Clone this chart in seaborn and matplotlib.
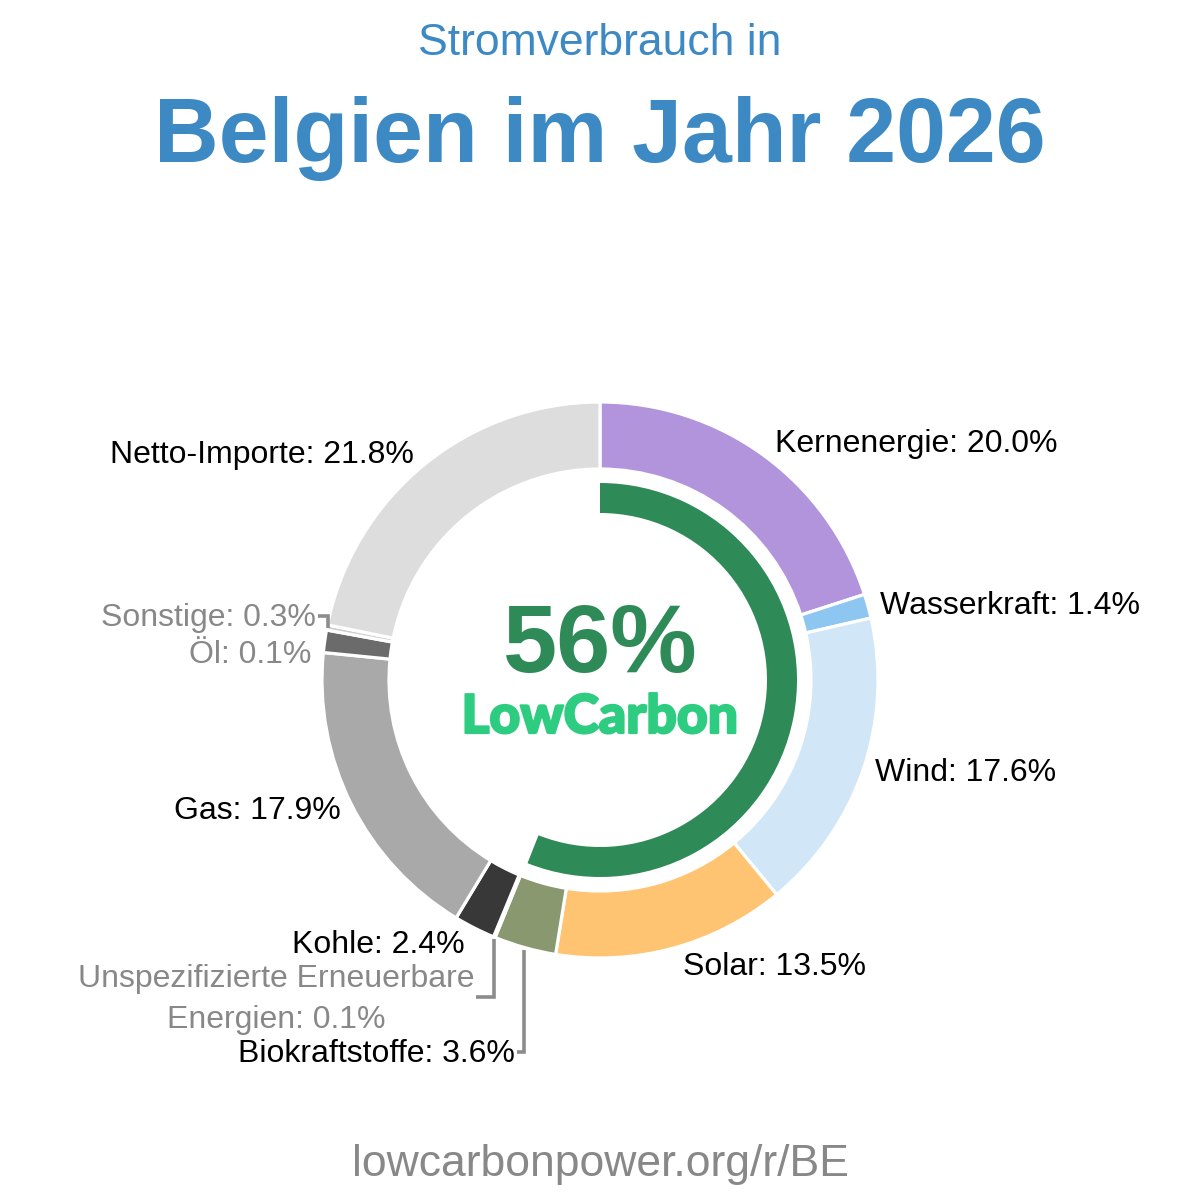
import matplotlib
matplotlib.use("Agg")
import matplotlib.pyplot as plt
import matplotlib.patches as mpatches
import matplotlib.patheffects as pe
import numpy as np
import seaborn as sns

# slices clockwise from 12 o'clock
sources = ['Kernenergie', 'Wasserkraft', 'Wind', 'Solar', 'Biokraftstoffe',
           'Unspezifizierte Erneuerbare Energien', 'Kohle', 'Gas', 'Öl',
           'Sonstige', 'Netto-Importe']
label_pct = [20.0, 1.4, 17.6, 13.5, 3.6, 0.1, 2.4, 17.9, 0.1, 0.3, 21.8]
# wedge sizes as drawn in the picture (Öl slice is drawn wider than its label)
drawn_pct = [20.0, 1.4, 17.6, 13.5, 3.6, 0.1, 2.4, 17.9, 1.3, 0.3, 21.8]
colors = ['#b294dc', '#8ec6f2', '#d1e6f6', '#ffc472', '#8a9870',
          '#6fa86a', '#383838', '#a9a9a9', '#6b6b6b', '#cfcfcf', '#dddddd']
low_carbon = 56

sns.set_theme(style="white")
plt.rcParams['font.family'] = ['Liberation Sans', 'DejaVu Sans']

fig = plt.figure(figsize=(12, 12), dpi=100)
ax = fig.add_axes([0, 0, 1, 1])

H = 1200
cx, cy = 600, H - 680
R = 278

wedges, _ = ax.pie(drawn_pct, colors=colors, startangle=90, counterclock=False,
                   radius=R, center=(cx, cy),
                   wedgeprops=dict(width=67, edgecolor='white', linewidth=2.3))

# low carbon share arc
green = mpatches.Wedge((cx, cy), 197, 90 - 360 * low_carbon / 100, 90,
                       width=30, facecolor='#2e8b57', edgecolor='none')
ax.add_patch(green)

ax.set_xlim(0, 1200)
ax.set_ylim(0, 1200)
ax.set_aspect('equal')
ax.axis('off')

def Y(y):
    return H - y

def fmt(name, p):
    return f"{name}: {p:.1f}%"

black = '#000000'
gray = '#888888'
lab_fs = 23

# (index, x, baseline y in image px, ha, color)
placements = [
    (0, 775, 452, 'left', black),
    (1, 880, 614, 'left', black),
    (2, 875, 781, 'left', black),
    (3, 683, 975, 'left', black),
    (7, 341, 819, 'right', black),
    (6, 465, 953, 'right', black),
    (10, 414, 463, 'right', black),
    (9, 316, 626, 'right', gray),
    (8, 311, 663, 'right', gray),
    (4, 515, 1062, 'right', black),
]
for i, x, y, ha, c in placements:
    ax.text(x, Y(y), fmt(sources[i], label_pct[i]), ha=ha, va='baseline',
            fontsize=lab_fs, color=c)

# two-line label for the unspecified renewables
ax.text(276, Y(987), 'Unspezifizierte Erneuerbare', ha='center', va='baseline',
        fontsize=lab_fs, color=gray)
ax.text(276, Y(1028), fmt('Energien', label_pct[5]), ha='center', va='baseline',
        fontsize=lab_fs, color=gray)

def edge_point(i, r=R + 2):
    w = wedges[i]
    a = np.deg2rad((w.theta1 + w.theta2) / 2)
    return cx + r * np.cos(a), cy + r * np.sin(a)

lc = dict(color='#8c8c8c', lw=2.6, solid_capstyle='butt', solid_joinstyle='miter')
# leader: unspecified renewables
px, py = edge_point(5)
ax.plot([px, px, 476], [py, Y(997), Y(997)], **lc)
# leader: biofuels
px, py = edge_point(4)
ax.plot([px, px, 517], [py, Y(1052), Y(1052)], **lc)
# leader: Sonstige
px, py = edge_point(9, R - 4)
ax.plot([318, px - 3, px - 3], [Y(616), Y(616), py], **lc)

# centre text
ax.text(cx, Y(672), f"{low_carbon}%", ha='center', va='baseline',
        fontsize=70, fontweight='bold', color='#2e8b57')
ax.text(cx, Y(733), 'LowCarbon', ha='center', va='baseline', fontsize=38.5,
        fontweight='black', color='#2ecc80', family=['Lato', 'DejaVu Sans'],
        path_effects=[pe.withStroke(linewidth=1.6, foreground='#2ecc80')])

# titles
ax.text(cx, Y(55), 'Stromverbrauch in', ha='center', va='baseline',
        fontsize=32, color='#3d89c4')
ax.text(cx, Y(162), 'Belgien im Jahr 2026', ha='center', va='baseline',
        fontsize=64.5, fontweight='bold', color='#3d89c4')
ax.text(cx, Y(1176), 'lowcarbonpower.org/r/BE', ha='center', va='baseline',
        fontsize=32, color='#888888')

fig.savefig('out.png', dpi=100, facecolor='white')
